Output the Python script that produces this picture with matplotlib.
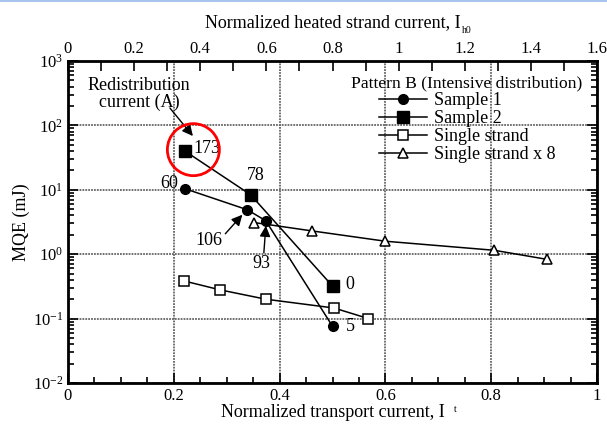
import numpy as np
import matplotlib.pyplot as plt
from matplotlib.ticker import MultipleLocator, LogLocator, NullFormatter

plt.rcParams['font.family'] = ['Liberation Serif', 'DejaVu Serif']
plt.rcParams['mathtext.fontset'] = 'stix'

# normalized transport current vs MQE (mJ)
s1_x = [0.221, 0.339, 0.374, 0.50]
s1_y = [10.4, 4.9, 3.3, 0.076]
s1_lbl = ['60', '106', '93', '5']

s2_x = [0.221, 0.345, 0.50]
s2_y = [40.0, 8.4, 0.32]
s2_lbl = ['173', '78', '0']

ss_x = [0.219, 0.287, 0.374, 0.503, 0.568]
ss_y = [0.385, 0.28, 0.20, 0.146, 0.10]

ss8_x = [0.352, 0.461, 0.60, 0.806, 0.906]
ss8_y = [3.1, 2.3, 1.59, 1.15, 0.83]

fig = plt.figure(figsize=(6.07, 4.26), dpi=100)
ax = fig.add_axes([68/607, 1-383/426, 529/607, 322/426])

ax.plot(s1_x, s1_y, 'k-', marker='o', ms=7, lw=1.1, label='Sample 1')
ax.plot(s2_x, s2_y, 'k-', marker='s', ms=8, lw=1.1, label='Sample 2')
ax.plot(ss_x, ss_y, 'k-', marker='s', ms=7, mfc='white', mew=1.1, lw=1.1, label='Single strand')
ax.plot(ss8_x, ss8_y, 'k-', marker='^', ms=7, mfc='white', mew=1.1, lw=1.1, label='Single strand x 8')

ax.set_yscale('log')
ax.set_xlim(0, 1)
ax.set_ylim(1e-2, 1e3)
ax.xaxis.set_major_locator(MultipleLocator(0.2))
ax.xaxis.set_minor_locator(MultipleLocator(0.05))
ax.xaxis.set_major_formatter(plt.FuncFormatter(lambda v, p: f'{v:g}'))
ax.yaxis.set_major_locator(LogLocator(base=10, numticks=10))
ax.yaxis.set_minor_locator(LogLocator(base=10, subs=np.arange(2, 10), numticks=20))
ax.yaxis.set_minor_formatter(NullFormatter())
ax.tick_params(which='both', direction='in', right=True, labelsize=12, width=1.2)
ax.tick_params(which='major', length=7)
ax.tick_params(which='minor', length=4)
ax.tick_params(axis='x', which='both', top=False)
for s in ax.spines.values():
    s.set_linewidth(2)
ax.grid(True, which='major', color='#666666', lw=1.3, ls=(0, (1, 0.6)))

ax.set_xlabel('Normalized transport current, I', fontsize=13, labelpad=0)
ax.set_ylabel('MQE (mJ)', fontsize=13, labelpad=2)
fig.text(455/607, 1-412/426, 't', fontsize=7, ha='center')

# top axis: heated strand current
top = ax.twiny()
top.set_xlim(0, 1.6)
top.xaxis.set_major_locator(MultipleLocator(0.2))
top.xaxis.set_minor_locator(MultipleLocator(0.1))
top.xaxis.set_major_formatter(plt.FuncFormatter(lambda v, p: f'{v:g}'))
top.tick_params(which='both', direction='in', labelsize=12, width=1.2, pad=3)
top.tick_params(which='major', length=7)
top.tick_params(which='minor', length=7)
top.set_xlabel('Normalized heated strand current, I', fontsize=13, labelpad=10)
fig.text(467/607, 1-33/426, 'h0', fontsize=7, ha='center')

leg = ax.legend(loc='upper right', bbox_to_anchor=(1.0, 1.0), frameon=False,
                title='Pattern B (Intensive distribution)', fontsize=13,
                title_fontsize=12.6, handlelength=2.7, handletextpad=0.35,
                labelspacing=0.05, borderpad=0.3)
leg._legend_box.align = 'center'


def label(t, x, y, dx, dy, ha='center'):
    ax.annotate(t, (x, y), xytext=(dx, dy), textcoords='offset pixels',
                ha=ha, va='center', fontsize=13)


def pointer(x, y, tip, tail):
    # arrow given in pixel offsets from a data point
    xt, yt = ax.transData.transform((x, y))
    ax.annotate('', xy=(xt + tip[0], yt + tip[1]), xycoords='figure pixels',
                xytext=(xt + tail[0], yt + tail[1]), textcoords='figure pixels',
                arrowprops=dict(arrowstyle='-|>', color='k', lw=1,
                                mutation_scale=16, shrinkA=0, shrinkB=0))


# redistribution current labels (A)
label(s2_lbl[0], s2_x[0], s2_y[0], 8, 3, 'left')
label(s2_lbl[1], s2_x[1], s2_y[1], 5, 19)
label(s2_lbl[2], s2_x[2], s2_y[2], 13, 2, 'left')
label(s1_lbl[0], s1_x[0], s1_y[0], -7, 5, 'right')
label(s1_lbl[3], s1_x[3], s1_y[3], 13, 0, 'left')
label(s1_lbl[1], s1_x[1], s1_y[1], -38, -31)
label(s1_lbl[2], s1_x[2], s1_y[2], -4, -43)
pointer(s1_x[1], s1_y[1], (-5, -5), (-22, -24))
pointer(s1_x[2], s1_y[2], (0, -5), (-2, -32))

ax.annotate('Redistribution\ncurrent (A)', (s2_x[0], s2_y[0]), xytext=(-46, 57),
            textcoords='offset pixels', ha='center', va='center',
            fontsize=13, linespacing=1.0)
pointer(s2_x[0], s2_y[0], (8, 15), (-15, 43))

cx, cy = ax.transData.transform((0.237, 42))
circle = plt.Circle((cx, cy), 26, transform=None, fill=False, ec='red', lw=2)
fig.patches.append(circle)

fig.patches.append(plt.Rectangle((0, 1-2/426), 1, 2/426, transform=fig.transFigure,
                                 color='#a9c4ee', lw=0))

fig.savefig('out.png', dpi=100)
